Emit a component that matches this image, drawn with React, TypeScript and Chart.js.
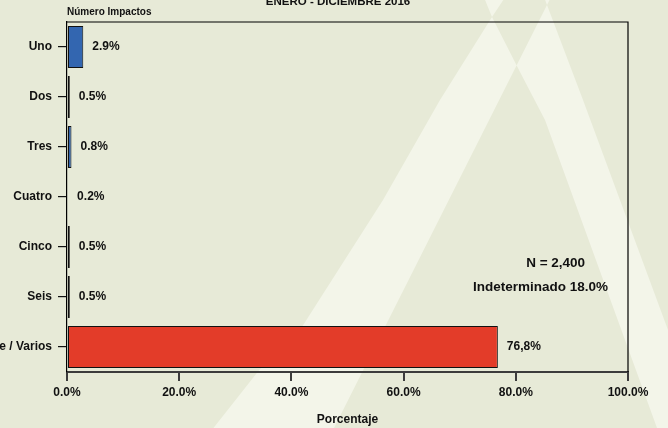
import React, { useEffect, useRef } from 'react';
import { Chart, registerables } from 'chart.js';

Chart.register(...registerables);

const categories = ['Uno', 'Dos', 'Tres', 'Cuatro', 'Cinco', 'Seis', 'Siete / Varios'];
const percentages = [2.9, 0.5, 0.8, 0.2, 0.5, 0.5, 76.8];
const valueLabels = ['2.9%', '0.5%', '0.8%', '0.2%', '0.5%', '0.5%', '76,8%'];
const barColors = ['#3366b0', '#3366b0', '#3366b0', '#3366b0', '#3366b0', '#3366b0', '#e33c29'];
const xTickLabels = ['0.0%', '20.0%', '40.0%', '60.0%', '80.0%', '100.0%'];
const chartTitle = 'ENERO - DICIEMBRE 2016';
const yAxisTitle = 'Número Impactos';
const xAxisTitle = 'Porcentaje';
const noteLines = ['N = 2,400', 'Indeterminado 18.0%'];
// note anchors in data units: [x percent, y category position]
const noteX = [87.1, 84.4];
const noteY = [4.32, 4.8];

const FONT = '"Liberation Sans", Arial, Helvetica, sans-serif';
const TEXT = '#111111';

const backgroundPlugin = {
  id: 'decoBackground',
  beforeDraw(chart: any) {
    const { ctx, width, height } = chart;
    ctx.save();
    ctx.fillStyle = '#e7ead7';
    ctx.fillRect(0, 0, width, height);
    const poly = (pts: number[][]) => {
      ctx.moveTo(pts[0][0], pts[0][1]);
      for (let i = 1; i < pts.length; i++) ctx.lineTo(pts[i][0], pts[i][1]);
      ctx.closePath();
    };
    ctx.beginPath();
    // first "A" shape
    poly([[492, 17], [440, 100], [383, 200], [300, 330], [260, 369], [204, 440], [662, 440], [657, 428], [545, 120], [520, 72]]);
    poly([[492, 17], [510, -10], [481, -10]]);
    // second "A" shape
    poly([[547, 5], [328, 440], [710, 440], [668, 330], [583, 100]]);
    poly([[547, 5], [554.5, -10], [541.4, -10]]);
    ctx.fillStyle = '#f3f5e9';
    ctx.fill('evenodd');
    ctx.restore();
  },
};

const valueLabelPlugin = {
  id: 'valueLabels',
  afterDatasetsDraw(chart: any) {
    const { ctx } = chart;
    const meta = chart.getDatasetMeta(0);
    ctx.save();
    ctx.font = `bold 12px ${FONT}`;
    ctx.fillStyle = TEXT;
    ctx.textAlign = 'left';
    ctx.textBaseline = 'middle';
    meta.data.forEach((bar: any, i: number) => {
      ctx.fillText(valueLabels[i], bar.x + 9, bar.y);
    });
    ctx.restore();
  },
};

const framePlugin = {
  id: 'frameAndText',
  afterDraw(chart: any) {
    const { ctx, chartArea, scales } = chart;
    ctx.save();
    ctx.strokeStyle = '#000';
    ctx.lineWidth = 1.2;
    ctx.beginPath();
    ctx.moveTo(chartArea.left, chartArea.top);
    ctx.lineTo(chartArea.right, chartArea.top);
    ctx.lineTo(chartArea.right, chartArea.bottom);
    ctx.stroke();

    ctx.fillStyle = TEXT;
    ctx.textAlign = 'center';
    ctx.textBaseline = 'alphabetic';
    ctx.font = `bold 11.5px ${FONT}`;
    ctx.fillText(chartTitle, chart.width / 2 + 4, 5);

    ctx.textAlign = 'left';
    ctx.textBaseline = 'middle';
    ctx.font = `bold 10px ${FONT}`;
    ctx.fillText(yAxisTitle, chartArea.left, 12);

    ctx.textAlign = 'center';
    ctx.font = `bold 13.5px ${FONT}`;
    noteLines.forEach((line, i) => {
      ctx.fillText(line, scales.x.getPixelForValue(noteX[i]), scales.y.getPixelForValue(noteY[i]));
    });
    ctx.restore();
  },
};

export default function App() {
  const canvasRef = useRef<HTMLCanvasElement | null>(null);

  useEffect(() => {
    if (!canvasRef.current) return;
    const chart = new Chart(canvasRef.current, {
      type: 'bar',
      data: {
        labels: categories,
        datasets: [
          {
            data: percentages,
            backgroundColor: barColors,
            borderColor: '#111',
            borderWidth: 1,
            borderSkipped: false,
            categoryPercentage: 1,
            barPercentage: 0.84,
          },
        ],
      },
      options: {
        indexAxis: 'y',
        responsive: false,
        animation: false,
        layout: { padding: { top: 22, right: 40, left: 0, bottom: 0 } },
        plugins: {
          legend: { display: false },
          tooltip: { enabled: false },
          title: { display: false },
        },
        scales: {
          x: {
            type: 'linear',
            position: 'bottom',
            min: 0,
            max: 100,
            afterFit: (s: any) => {
              s.height = 56;
            },
            afterBuildTicks: (s: any) => {
              s.ticks = xTickLabels.map((_, i) => ({ value: i * 20 }));
            },
            border: { display: true, color: '#3c3c3c', width: 2 },
            grid: {
              drawOnChartArea: false,
              drawTicks: true,
              tickLength: 9,
              color: '#3c3c3c',
              lineWidth: 2,
            },
            ticks: {
              padding: 4,
              color: TEXT,
              font: { family: FONT, weight: 'bold', size: 12 },
              maxRotation: 0,
              callback: (_v: any, i: number) => xTickLabels[i],
            },
            title: {
              display: true,
              text: xAxisTitle,
              color: TEXT,
              font: { family: FONT, weight: 'bold', size: 12 },
              padding: { top: 4, bottom: 1 },
            },
          },
          y: {
            type: 'category',
            afterFit: (s: any) => {
              s.width = 67;
            },
            border: { display: true, color: '#000', width: 1.2 },
            grid: {
              offset: false,
              drawOnChartArea: false,
              drawTicks: true,
              tickLength: 9,
              color: '#111',
              lineWidth: 1.2,
            },
            ticks: {
              padding: 6,
              color: TEXT,
              autoSkip: false,
              font: { family: FONT, weight: 'bold', size: 12 },
            },
          },
        },
      },
      plugins: [backgroundPlugin, valueLabelPlugin, framePlugin],
    } as any);
    return () => chart.destroy();
  }, []);

  return (
    <div style={{ position: 'fixed', left: 0, top: 0, width: 668, height: 428 }}>
      <canvas ref={canvasRef} width={668} height={428} style={{ display: 'block' }} />
    </div>
  );
}
